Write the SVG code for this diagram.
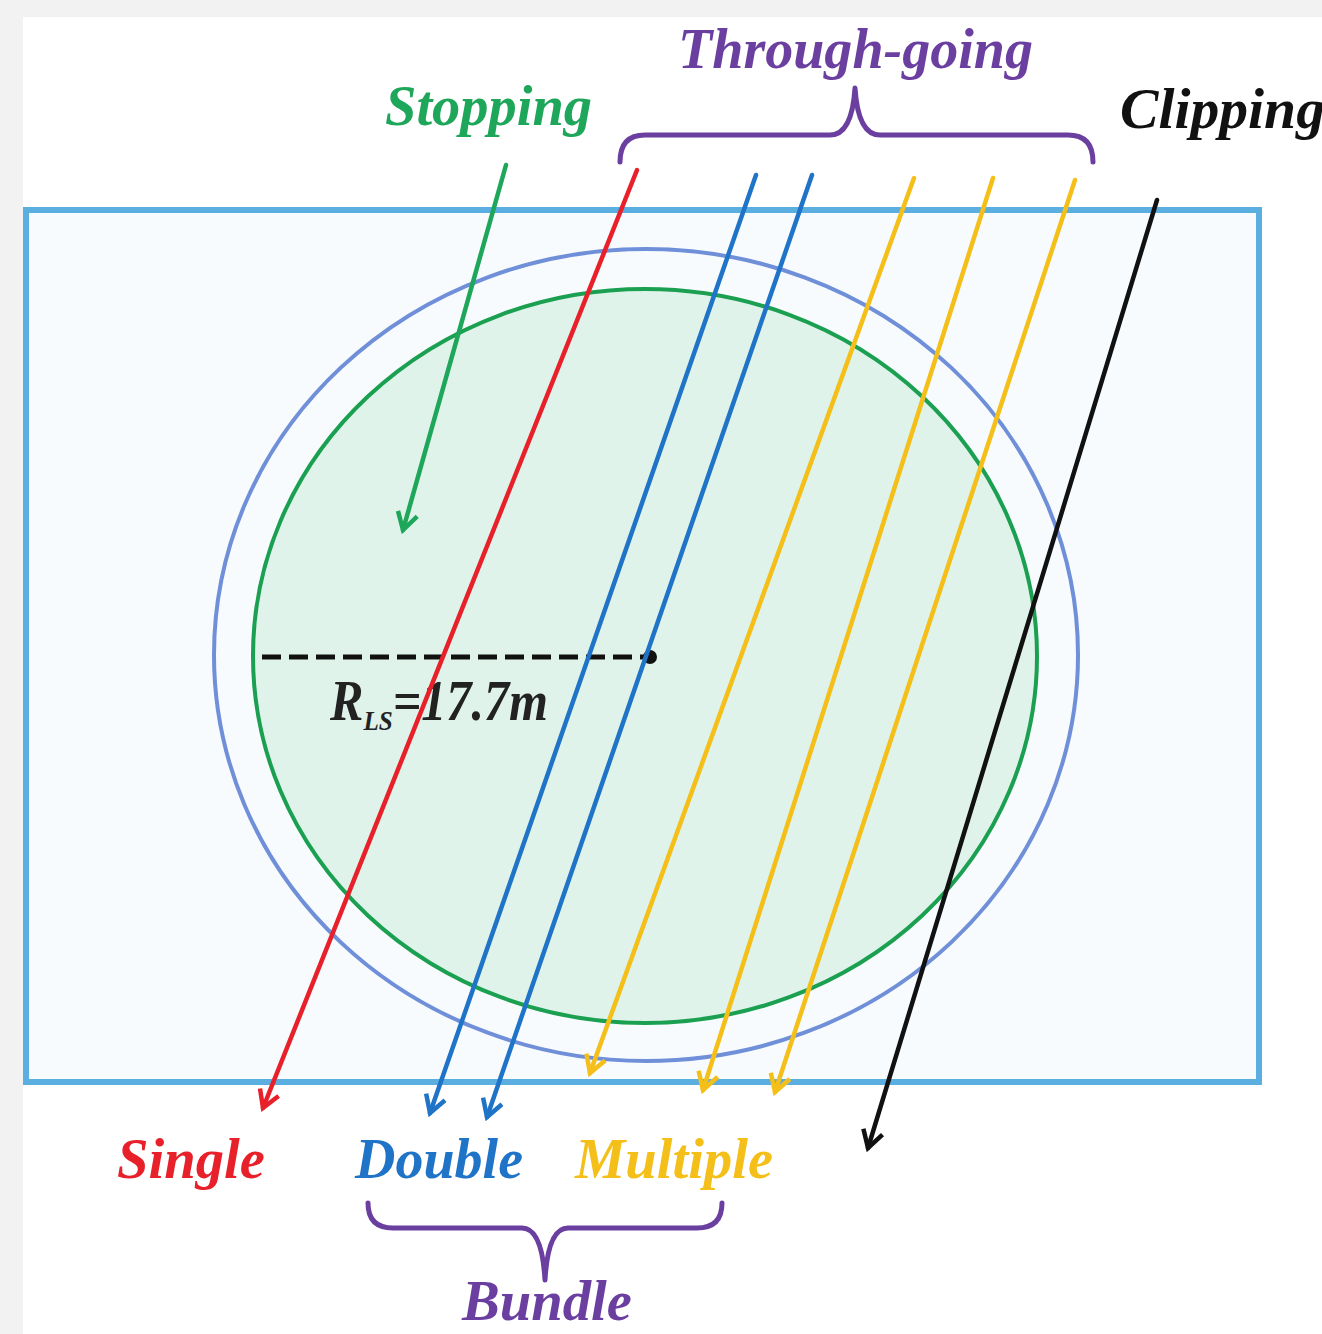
<svg xmlns="http://www.w3.org/2000/svg" width="1322" height="1334" viewBox="0 0 1322 1334">
<style>
.lbl{font-family:"Liberation Serif","Times New Roman",serif;font-weight:bold;font-style:italic;font-size:56px}
.trk{fill:none;stroke-width:4.5;stroke-linecap:round}
.brace{fill:none;stroke:#6b3fa0;stroke-width:5;stroke-linecap:round;stroke-linejoin:round}
</style>
<defs>
<marker id="aG" markerUnits="userSpaceOnUse" viewBox="-20 -12 24 24" refX="0" refY="0" markerWidth="24" markerHeight="24" orient="auto"><path d="M-17,-10 L0,0 L-17,10" fill="none" stroke="#1ea65a" stroke-width="4.5"/></marker>
<marker id="aR" markerUnits="userSpaceOnUse" viewBox="-20 -12 24 24" refX="0" refY="0" markerWidth="24" markerHeight="24" orient="auto"><path d="M-17,-10 L0,0 L-17,10" fill="none" stroke="#e8202a" stroke-width="4.5"/></marker>
<marker id="aB" markerUnits="userSpaceOnUse" viewBox="-20 -12 24 24" refX="0" refY="0" markerWidth="24" markerHeight="24" orient="auto"><path d="M-17,-10 L0,0 L-17,10" fill="none" stroke="#1f74c8" stroke-width="4.5"/></marker>
<marker id="aY" markerUnits="userSpaceOnUse" viewBox="-20 -12 24 24" refX="0" refY="0" markerWidth="24" markerHeight="24" orient="auto"><path d="M-17,-10 L0,0 L-17,10" fill="none" stroke="#f5bf1a" stroke-width="4.5"/></marker>
<marker id="aK" markerUnits="userSpaceOnUse" viewBox="-20 -12 24 24" refX="0" refY="0" markerWidth="24" markerHeight="24" orient="auto"><path d="M-17,-10 L0,0 L-17,10" fill="none" stroke="#111" stroke-width="4.5"/></marker>
</defs>
<rect x="0" y="0" width="1322" height="1334" fill="#f2f2f2"/>
<rect x="23" y="17" width="1299" height="1317" fill="#ffffff"/>
<g id="detector">
<rect x="26" y="210" width="1233" height="872" fill="#f7fbfe" stroke="#5aaee0" stroke-width="6"/>
<ellipse cx="646" cy="655" rx="432" ry="406" fill="none" stroke="#6f8fd8" stroke-width="4"/>
<ellipse cx="645" cy="656" rx="392" ry="367" fill="#dff3ea" stroke="#1aa050" stroke-width="4"/>
<line x1="262" y1="657" x2="646" y2="657" stroke="#111" stroke-width="5" stroke-dasharray="19 8"/>
<circle cx="650" cy="657" r="7" fill="#111"/>
<text x="330" y="720" class="lbl" font-size="44" fill="#222" textLength="218" lengthAdjust="spacingAndGlyphs">R<tspan font-size="28" dy="10">LS</tspan><tspan dy="-10">=17.7m</tspan></text>
</g>
<g id="connectors">
<line class="trk" x1="506" y1="165" x2="403" y2="530" stroke="#1ea65a" marker-end="url(#aG)"/>
<line class="trk" x1="637" y1="170" x2="263" y2="1108" stroke="#e8202a" marker-end="url(#aR)"/>
<line class="trk" x1="756" y1="175" x2="430" y2="1113" stroke="#1f74c8" marker-end="url(#aB)"/>
<line class="trk" x1="812" y1="175" x2="487" y2="1117" stroke="#1f74c8" marker-end="url(#aB)"/>
<line class="trk" x1="914" y1="178" x2="590" y2="1073" stroke="#f5bf1a" marker-end="url(#aY)"/>
<line class="trk" x1="993" y1="178" x2="703" y2="1090" stroke="#f5bf1a" marker-end="url(#aY)"/>
<line class="trk" x1="1075" y1="180" x2="775" y2="1092" stroke="#f5bf1a" marker-end="url(#aY)"/>
<line class="trk" x1="1157" y1="200" x2="868" y2="1148" stroke="#111" marker-end="url(#aK)"/>
</g>
<g id="through-going">
<path class="brace" d="M620,162 Q620,135 645,135 L830,135 Q852,135 855,88 Q858,135 880,135 L1068,135 Q1093,135 1093,162"/>
<text x="678" y="68" class="lbl" fill="#6b3fa0" textLength="355" lengthAdjust="spacingAndGlyphs">Through-going</text>
</g>
<g id="stopping"><text x="385" y="125" class="lbl" fill="#1ea65a" textLength="207" lengthAdjust="spacingAndGlyphs">Stopping</text></g>
<g id="clipping"><text x="1120" y="128" class="lbl" fill="#111" textLength="205" lengthAdjust="spacingAndGlyphs">Clipping</text></g>
<g id="single"><text x="117" y="1178" class="lbl" fill="#e8202a" textLength="148" lengthAdjust="spacingAndGlyphs">Single</text></g>
<g id="double"><text x="355" y="1178" class="lbl" fill="#1f74c8" textLength="168" lengthAdjust="spacingAndGlyphs">Double</text></g>
<g id="multiple"><text x="575" y="1178" class="lbl" fill="#f5bf1a" textLength="198" lengthAdjust="spacingAndGlyphs">Multiple</text></g>
<g id="bundle">
<path class="brace" d="M368,1203 Q368,1228 393,1228 L522,1228 Q542,1228 545,1280 Q548,1228 568,1228 L697,1228 Q722,1228 722,1203"/>
<text x="462" y="1320" class="lbl" fill="#6b3fa0" textLength="170" lengthAdjust="spacingAndGlyphs">Bundle</text>
</g>
</svg>
